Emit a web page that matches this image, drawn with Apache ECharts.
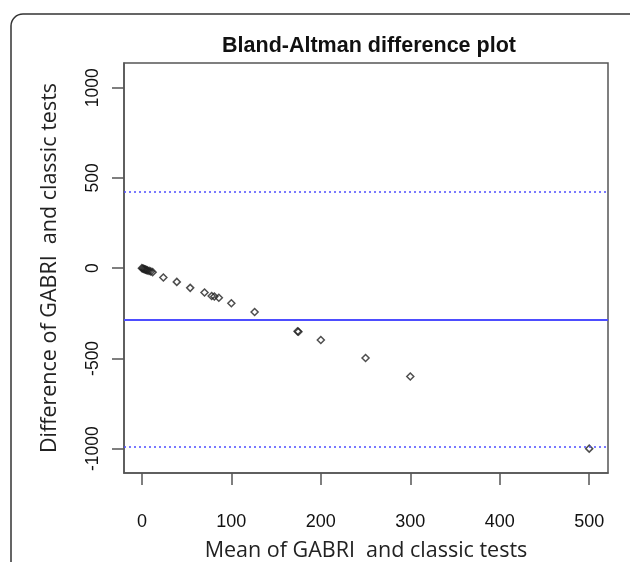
<!DOCTYPE html>
<html><head><meta charset="utf-8">
<script src="https://cdn.jsdelivr.net/npm/echarts@6/dist/echarts.min.js"></script>
<style>html,body{margin:0;padding:0;background:#fff}#c{width:630px;height:562px}</style>
</head><body><div id="c"></div>
<script>
// Data
const meanValues = [0, 1, 2, 3, 4, 5, 6, 8, 10, 12, 24, 39, 54, 70, 78, 81, 86, 100, 126, 174, 175, 200, 250, 300, 500];
const diffValues = [0, -2, -4, -6, -8, -10, -12, -15, -18, -22, -52, -76, -109, -135, -154, -157, -164, -194, -243, -350, -352, -398, -498, -600, -1000];
const meanDiff = -283;
const upperLimit = 422;
const lowerLimit = -990;
const xTicks = [0, 100, 200, 300, 400, 500];
const yTicks = [-1000, -500, 0, 500, 1000];

const chart = echarts.init(document.getElementById('c'));
const pts = meanValues.map((m, i) => [m, diffValues[i]]);
const lineSt = {color: '#555', width: 1.5};
chart.setOption({
  animation: false,
  backgroundColor: '#fff',
  title: {
    text: 'Bland-Altman difference plot',
    left: 364, top: 30, textAlign: 'center',
    textStyle: {fontFamily: 'Liberation Sans', fontWeight: 'bold', fontSize: 21.5, color: '#111'}
  },
  graphic: [{
    type: 'rect', shape: {x: 11, y: 14, width: 660, height: 620, r: 12},
    style: {fill: 'none', stroke: '#333', lineWidth: 1.5}, silent: true
  }],
  grid: {left: 124, right: 22, top: 63, bottom: 89, show: true, borderColor: '#555', borderWidth: 1.5,
    backgroundColor: 'transparent', containLabel: false, outerBoundsMode: 'none'},
  xAxis: {
    type: 'value', min: -20, max: 521,
    name: 'Mean of GABRI  and classic tests', nameLocation: 'middle', nameGap: 67,
    nameTextStyle: {fontFamily: 'Open Sans', fontSize: 21.5, color: '#222'},
    axisLine: {show: true, onZero: false, lineStyle: lineSt},
    axisTick: {show: true, inside: false, length: 12, lineStyle: lineSt, customValues: xTicks},
    axisLabel: {fontFamily: 'Liberation Sans', fontSize: 18, color: '#111', margin: 40, customValues: xTicks,
      formatter: v => String(v)},
    splitLine: {show: false}
  },
  yAxis: {
    type: 'value', min: -1135, max: 1137,
    name: 'Difference of GABRI  and classic tests', nameLocation: 'middle', nameGap: 63, nameRotate: 90,
    nameTextStyle: {fontFamily: 'Open Sans', fontSize: 21.5, color: '#222'},
    axisLine: {show: true, onZero: false, lineStyle: lineSt},
    axisTick: {show: true, inside: false, length: 12, lineStyle: lineSt, customValues: yTicks},
    axisLabel: {fontFamily: 'Liberation Sans', fontSize: 17.5, color: '#111', margin: 22, rotate: 90, customValues: yTicks,
      formatter: v => String(v)},
    splitLine: {show: false}
  },
  series: [{
    type: 'scatter', data: pts, symbol: 'diamond', symbolSize: 7,
    itemStyle: {color: 'transparent', borderColor: '#222', borderWidth: 1.5},
    markLine: {
      silent: true, symbol: 'none', label: {show: false},
      data: [
        {yAxis: meanDiff, lineStyle: {color: '#4d4dff', width: 1.8, type: 'solid'}},
        {yAxis: upperLimit, lineStyle: {color: '#4d4dff', width: 1.5, type: [2, 3]}},
        {yAxis: lowerLimit, lineStyle: {color: '#4d4dff', width: 1.5, type: [2, 3]}}
      ]
    }
  }]
});
</script></body></html>
